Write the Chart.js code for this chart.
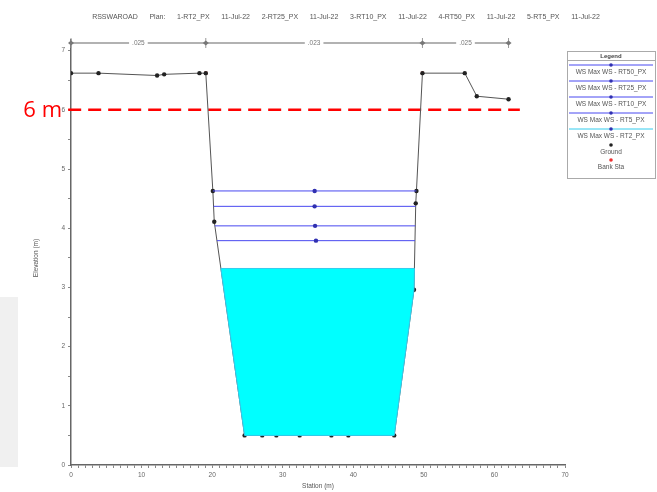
<!DOCTYPE html>
<html>
<head>
<meta charset="utf-8">
<script src="https://cdn.jsdelivr.net/npm/chart.js@4/dist/chart.umd.min.js"></script>
<style>
  body { margin: 0; background: #fff; }
  canvas { display: block; }
</style>
</head>
<body>
<canvas id="xsChart" width="657" height="492"></canvas>
<script>
// ground geometry (station m, elevation m)
const groundSta  = [0, 3.9, 12.2, 13.2, 18.2, 19.1, 20.1, 20.3, 24.6, 27.1, 29.1, 32.4, 36.9, 39.3, 45.8, 48.6, 48.85, 48.95, 49.8, 55.8, 57.5, 62.0];
const groundElev = [6.62, 6.62, 6.58, 6.60, 6.62, 6.62, 4.63, 4.11, 0.5, 0.5, 0.5, 0.5, 0.5, 0.5, 0.5, 2.96, 4.42, 4.63, 6.62, 6.62, 6.23, 6.18];

const bankSta  = [19.1, 49.8];
const bankElev = [6.62, 6.62];

// water surface profiles
const profileNames = ["WS Max WS - RT50_PX", "WS Max WS - RT25_PX", "WS Max WS - RT10_PX", "WS Max WS - RT5_PX", "WS Max WS - RT2_PX"];
const wsElev = [4.63, 4.37, 4.04, 3.79, 3.32];

// manning n along the top
const nSta = [0, 19.1, 49.8, 62.0];
const nValues = [".025", ".023", ".025"];

// red reference line
const refElev = 6;
const refSta = [-0.4, 63.6];
const refLabel = "6 m";

const xTicks = [0, 10, 20, 30, 40, 50, 60, 70];
const yTicks = [0, 1, 2, 3, 4, 5, 6, 7];

const titleText = "RSSWAROAD      Plan:      1-RT2_PX      11-Jul-22      2-RT25_PX      11-Jul-22      3-RT10_PX      11-Jul-22      4-RT50_PX      11-Jul-22      5-RT5_PX      11-Jul-22";

const groundPts = groundSta.map((s, i) => ({x: s, y: groundElev[i]}));

// where a water level meets the channel walls
function wsEdges(elev) {
    let hits = [];
    for (let i = 5; i < 18; i++) {
        const e1 = groundElev[i], e2 = groundElev[i + 1];
        if ((e1 - elev) * (e2 - elev) <= 0 && e1 !== e2) {
            const t = (e1 - elev) / (e1 - e2);
            hits.push(groundSta[i] + t * (groundSta[i + 1] - groundSta[i]));
        }
    }
    return [hits[0], hits[hits.length - 1]];
}

function waterShape(elev) {
    const [l, r] = wsEdges(elev);
    let pts = [{x: l, y: elev}, {x: r, y: elev}];
    for (let i = groundSta.length - 1; i >= 0; i--) {
        if (groundSta[i] > l && groundSta[i] < r && groundElev[i] < elev)
            pts.push({x: groundSta[i], y: groundElev[i]});
    }
    pts.push({x: l, y: elev});
    return pts;
}

const datasets = [];

// filled lowest profile
const lowIdx = wsElev.length - 1;
datasets.push({
    label: "fill",
    data: waterShape(wsElev[lowIdx]),
    showLine: true,
    fill: "shape",
    backgroundColor: "#00ffff",
    borderColor: "#33ccee",
    borderWidth: 1,
    pointRadius: 0,
    tension: 0
});

wsElev.forEach((e, i) => {
    if (i === lowIdx) return;
    const [l, r] = wsEdges(e);
    datasets.push({
        label: profileNames[i],
        data: [{x: l, y: e}, {x: (l + r) / 2, y: e}, {x: r, y: e}],
        showLine: true,
        borderColor: "#4848f0",
        backgroundColor: "#3030b0",
        borderWidth: 1,
        pointRadius: [0, 2.2, 0],
        pointBorderWidth: 0,
        tension: 0
    });
});

datasets.push({
    label: "Ground",
    data: groundPts,
    showLine: true,
    borderColor: "#555",
    backgroundColor: "#222",
    borderWidth: 1,
    pointRadius: 2.2,
    pointBorderWidth: 0,
    tension: 0
});

datasets.push({
    label: "Bank Sta",
    data: bankSta.map((s, i) => ({x: s, y: bankElev[i]})),
    showLine: false,
    backgroundColor: "#ee3030",
    pointStyle: "rect",
    pointRadius: 2.2,
    pointBorderWidth: 0
});

datasets.push({
    label: "ref",
    data: refSta.map(s => ({x: s, y: refElev})),
    showLine: true,
    borderColor: "#ff0000",
    borderWidth: 2.5,
    borderDash: [13, 7],
    pointRadius: 0,
    clip: false
});

const decor = {
    id: "decor",
    beforeDraw(chart) {
        const ctx = chart.ctx;
        ctx.save();
        ctx.fillStyle = "#fff";
        ctx.fillRect(0, 0, chart.width, chart.height);
        ctx.fillStyle = "#f0f0f0";
        ctx.fillRect(0, 297, 18, 170);
        ctx.restore();
    },
    afterDraw(chart) {
        const ctx = chart.ctx;
        const xs = chart.scales.x, ys = chart.scales.y;
        ctx.save();

        // title
        ctx.fillStyle = "#555";
        ctx.font = "7px 'Liberation Sans', Arial";
        ctx.textAlign = "center";
        ctx.textBaseline = "middle";
        ctx.fillText(titleText, 346, 17);

        // axis titles
        ctx.font = "6.5px 'Liberation Sans', Arial";
        ctx.fillText("Station (m)", 318, 486);
        ctx.save();
        ctx.translate(36, 258);
        ctx.rotate(-Math.PI / 2);
        ctx.fillText("Elevation (m)", 0, 0);
        ctx.restore();

        // manning n line
        const ny = 43;
        ctx.strokeStyle = "#999";
        ctx.lineWidth = 1.5;
        ctx.beginPath();
        ctx.moveTo(xs.getPixelForValue(nSta[0]), ny);
        ctx.lineTo(xs.getPixelForValue(nSta[nSta.length - 1]), ny);
        ctx.stroke();
        ctx.fillStyle = "#777";
        nSta.forEach((s, i) => {
            const px = xs.getPixelForValue(s);
            ctx.beginPath();
            ctx.moveTo(px, ny - 5);
            ctx.lineTo(px, ny + 5);
            ctx.lineWidth = 1;
            ctx.stroke();
            ctx.beginPath();
            ctx.moveTo(px - 3, ny); ctx.lineTo(px, ny - 2.5); ctx.lineTo(px + 3, ny); ctx.lineTo(px, ny + 2.5);
            ctx.closePath();
            ctx.fill();
        });
        ctx.font = "6.5px 'Liberation Sans', Arial";
        nValues.forEach((v, i) => {
            const px = xs.getPixelForValue((nSta[i] + nSta[i + 1]) / 2);
            const w = ctx.measureText(v).width + 6;
            ctx.fillStyle = "#fff";
            ctx.fillRect(px - w / 2, ny - 4, w, 8);
            ctx.fillStyle = "#777";
            ctx.fillText(v, px, ny);
        });

        // red label
        ctx.fillStyle = "#ff0000";
        ctx.font = "22px 'Open Sans', 'Noto Sans', sans-serif";
        ctx.textAlign = "right";
        ctx.fillText(refLabel, 62, ys.getPixelForValue(refElev) + 1);

        // legend box
        const lx = 567, lw = 88, ly = 51, lh = 127;
        ctx.fillStyle = "#fff";
        ctx.fillRect(lx, ly, lw, lh);
        ctx.strokeStyle = "#aaa";
        ctx.lineWidth = 1;
        ctx.strokeRect(lx + 0.5, ly + 0.5, lw, lh);
        ctx.beginPath();
        ctx.moveTo(lx, ly + 9.5); ctx.lineTo(lx + lw, ly + 9.5);
        ctx.stroke();
        ctx.textAlign = "center";
        ctx.font = "bold 6px 'Liberation Sans', Arial";
        ctx.fillStyle = "#444";
        const cx = lx + lw / 2;
        ctx.fillText("Legend", cx, ly + 5);
        ctx.font = "6.5px 'Liberation Sans', Arial";

        const entries = profileNames.map((n, i) => ({name: n, line: i === lowIdx ? "#33ccee" : "#4848f0", dot: "#3030b0", h: 16}));
        entries.push({name: "Ground", line: null, dot: "#222", h: 15});
        entries.push({name: "Bank Sta", line: null, dot: "#ee3030", h: 15});
        let top = ly + 10;
        entries.forEach(en => {
            const my = top + 4;
            if (en.line) {
                ctx.strokeStyle = en.line;
                ctx.beginPath();
                ctx.moveTo(lx + 2, my); ctx.lineTo(lx + lw - 2, my);
                ctx.stroke();
            }
            ctx.fillStyle = en.dot;
            ctx.beginPath();
            ctx.arc(cx, my, 1.8, 0, Math.PI * 2);
            ctx.fill();
            ctx.fillStyle = "#555";
            ctx.fillText(en.name, cx, top + 11);
            top += en.h;
        });

        ctx.restore();
    }
};

new Chart(document.getElementById("xsChart"), {
    type: "scatter",
    data: { datasets: datasets },
    options: {
        responsive: false,
        animation: false,
        layout: { padding: { top: 40, right: 92, left: 0, bottom: 0 } },
        plugins: {
            legend: { display: false },
            title: { display: false },
            tooltip: { enabled: false }
        },
        scales: {
            x: {
                type: "linear",
                min: 0,
                max: 70,
                afterFit: s => { s.height = 27; },
                afterBuildTicks: s => {
                    const t = [];
                    for (let v = 0; v <= 70; v++) t.push({value: v});
                    s.ticks = t;
                },
                ticks: {
                    autoSkip: false,
                    maxRotation: 0,
                    padding: 3,
                    font: { size: 6.5, family: "'Liberation Sans', Arial" },
                    color: "#666",
                    callback: v => xTicks.includes(v) ? v : ""
                },
                grid: { drawOnChartArea: false, tickLength: 3, color: "#888" },
                border: { color: "#666", width: 1.5 }
            },
            y: {
                min: 0,
                max: 7.18,
                afterFit: s => { s.width = 71; },
                afterBuildTicks: s => {
                    const t = [];
                    for (let v = 0; v <= 7.001; v += 0.5) t.push({value: Math.round(v * 10) / 10});
                    s.ticks = t;
                },
                ticks: {
                    autoSkip: false,
                    padding: 3,
                    font: { size: 6.5, family: "'Liberation Sans', Arial" },
                    color: "#666",
                    callback: v => yTicks.includes(v) ? v : ""
                },
                grid: { drawOnChartArea: false, tickLength: 3, color: "#888" },
                border: { color: "#666", width: 1.5 }
            }
        }
    },
    plugins: [decor]
});
</script>
</body>
</html>
